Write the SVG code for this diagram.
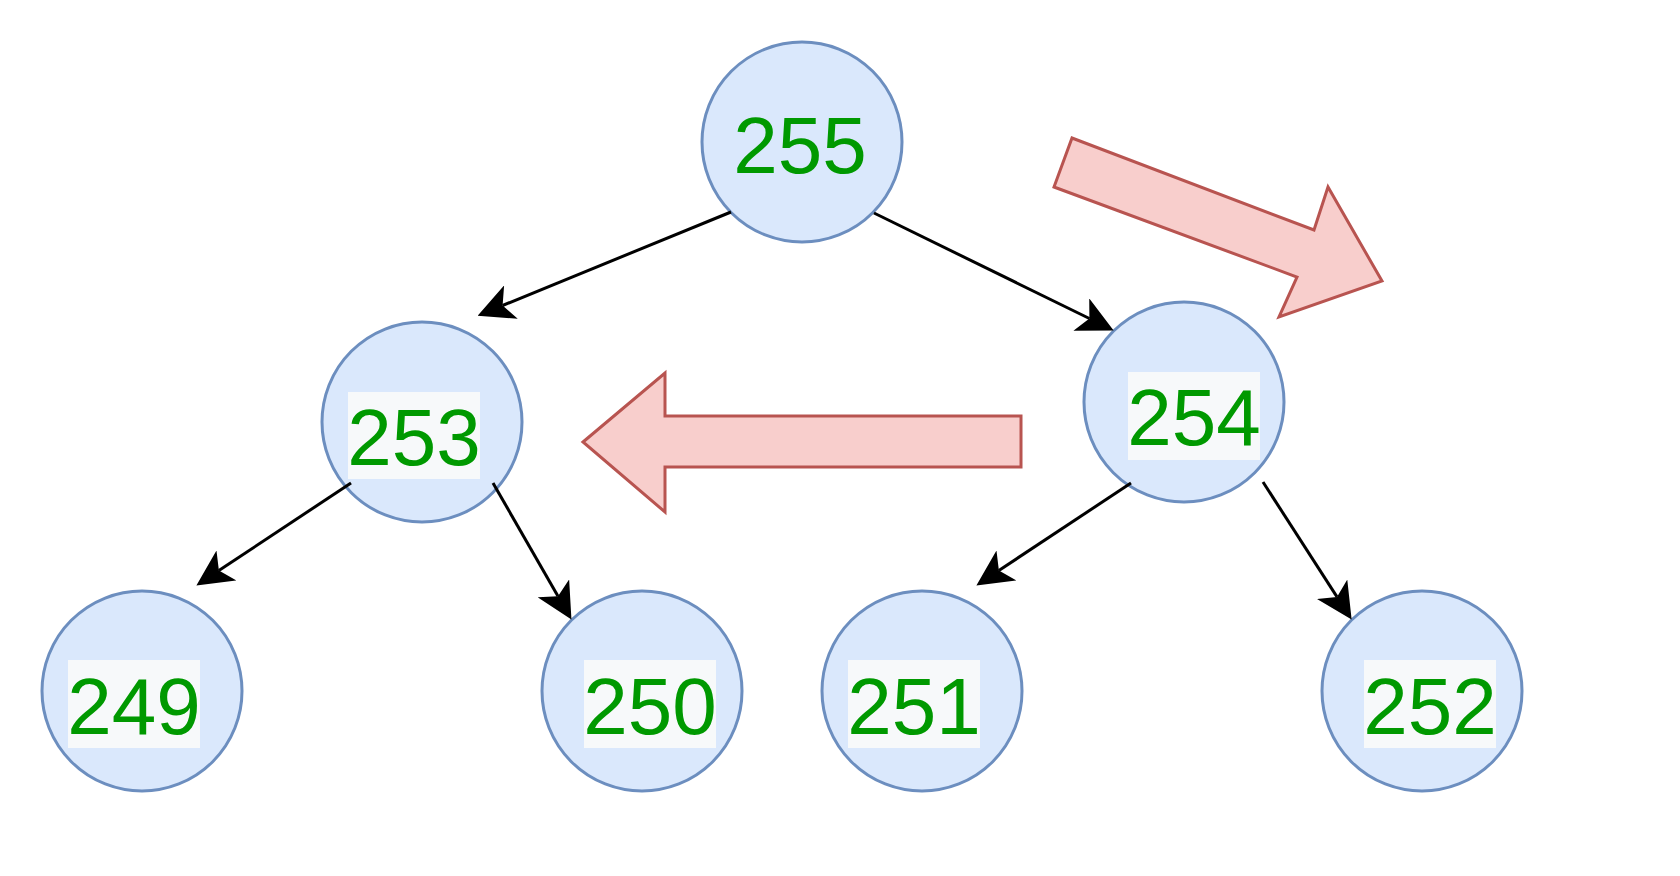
<svg xmlns="http://www.w3.org/2000/svg" width="1680" height="876" viewBox="0 0 1680 876">
<style>
.node circle{fill:#dae8fc;stroke:#6c8ebf;stroke-width:3}
.lblbg{fill:#f7f9fa}
.lbl{font-family:"Liberation Sans",Arial,sans-serif;font-size:80px;fill:#009900;text-anchor:middle}
.edge{stroke:#000;stroke-width:3;fill:none;marker-end:url(#arr)}
.big{fill:#f8cecc;stroke:#b85450;stroke-width:3;stroke-linejoin:miter}
</style>
<defs>
<marker id="arr" markerUnits="userSpaceOnUse" markerWidth="36" markerHeight="36" viewBox="0 0 35 35" refX="8.75" refY="17.5" orient="auto">
<path d="M35,17.5 L0,0 L8.75,17.5 L0,35 Z" fill="#000"/>
</marker>
</defs>
<rect width="1680" height="876" fill="#fff"/>
<g id="n255" class="node">
<circle cx="802" cy="142" r="100"/>
<text class="lbl" x="800" y="173">255</text>
</g>
<g id="n253" class="node">
<circle cx="422" cy="422" r="100"/>
<rect class="lblbg" x="348" y="392" width="132" height="87"/>
<text class="lbl" x="414" y="465">253</text>
</g>
<g id="n254" class="node">
<circle cx="1184" cy="402" r="100"/>
<rect class="lblbg" x="1128" y="372" width="132" height="88"/>
<text class="lbl" x="1194" y="445">254</text>
</g>
<g id="n249" class="node">
<circle cx="142" cy="691" r="100"/>
<rect class="lblbg" x="68" y="660" width="132" height="88"/>
<text class="lbl" x="134" y="734">249</text>
</g>
<g id="n250" class="node">
<circle cx="642" cy="691" r="100"/>
<rect class="lblbg" x="584" y="660" width="132" height="88"/>
<text class="lbl" x="650" y="734">250</text>
</g>
<g id="n251" class="node">
<circle cx="922" cy="691" r="100"/>
<rect class="lblbg" x="848" y="660" width="132" height="88"/>
<text class="lbl" x="914" y="734">251</text>
</g>
<g id="n252" class="node">
<circle cx="1422" cy="691" r="100"/>
<rect class="lblbg" x="1364" y="660" width="132" height="88"/>
<text class="lbl" x="1430" y="734">252</text>
</g>
<g id="arrowLeft">
<polygon class="big" points="583,442 665,373 665,416 1021,416 1021,467 665,467 665,512"/>
</g>
<g id="arrowDiag">
<polygon class="big" points="1072,138 1314,230 1328,187 1382,281 1279,317 1297,277 1054,187"/>
</g>
<g id="connectors">
<line class="edge" x1="731" y1="212" x2="502.6" y2="305.5"/>
<line class="edge" x1="874" y1="213" x2="1089.4" y2="318.5"/>
<line class="edge" x1="351" y1="483" x2="218.9" y2="570.5"/>
<line class="edge" x1="493" y1="483" x2="558" y2="596.2"/>
<line class="edge" x1="1131" y1="483" x2="998.9" y2="570.5"/>
<line class="edge" x1="1263" y1="482" x2="1337" y2="596.9"/>
</g>
</svg>
